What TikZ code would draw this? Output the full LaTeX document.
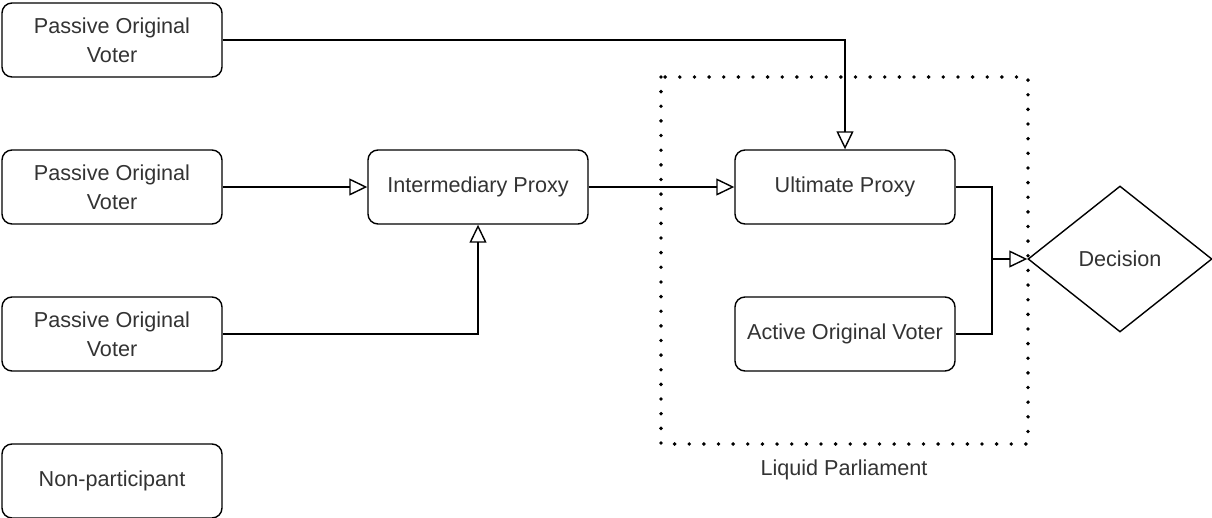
\documentclass[tikz,border=0pt]{standalone}
\usepackage{fontspec}
\setmainfont{Liberation Sans}
\usepackage{tikz}
\usetikzlibrary{shapes.geometric, arrows.meta}
\definecolor{txtgray}{HTML}{333333}
\tikzstyle{arrow} = [thick,-{Triangle[open,length=0.36cm,width=0.34cm]}]
\tikzstyle{voterbox} = [draw, rounded corners=0.2cm, minimum width=4.4cm, minimum height=1.48cm, align=center, text=txtgray, font=\fontsize{12.3}{16.4}\selectfont]
\tikzstyle{decision} = [draw, diamond, minimum width=3.68cm, minimum height=2.92cm, inner sep=0pt, text=txtgray, font=\fontsize{12.3}{16.4}\selectfont]

\begin{document}
\begin{tikzpicture}[thick]
\useasboundingbox (0,0) rectangle (24.24,-10.36);
% parliament border
\draw[line width=2.2pt, line cap=round, dash pattern=on 0pt off 8.33pt] (13.22,-1.54) rectangle (20.56,-8.88);
\node[text=txtgray, font=\fontsize{12.3}{16.4}\selectfont] (lp) at (16.88,-9.40) {Liquid Parliament};
% voters
\node[voterbox] (pov1) at (2.24,-0.80) {Passive Original\\Voter};
\node[voterbox] (pov2) at (2.24,-3.74) {Passive Original\\Voter};
\node[voterbox] (pov3) at (2.24,-6.68) {Passive Original\\Voter};
\node[voterbox] (nonp) at (2.24,-9.62) {Non-participant};
% proxies
\node[voterbox] (inter) at (9.56,-3.74) {Intermediary Proxy};
\node[voterbox] (ult) at (16.90,-3.74) {Ultimate Proxy};
\node[voterbox] (active) at (16.90,-6.68) {Active Original Voter};
\node[decision] (dec) at (22.40,-5.18) {Decision};
\coordinate (join) at (19.84,-5.18);
% delegations
\draw[arrow] (pov1.east) -| (ult.north);
\draw[arrow] (pov2.east) -- (inter.west);
\draw[arrow] (pov3.east) -| (inter.south);
\draw[arrow] (inter.east) -- (ult.west);
\draw (ult.east) -| (join);
\draw (active.east) -| (join);
\draw[arrow] (join) -- (dec.west);
\end{tikzpicture}
\end{document}
